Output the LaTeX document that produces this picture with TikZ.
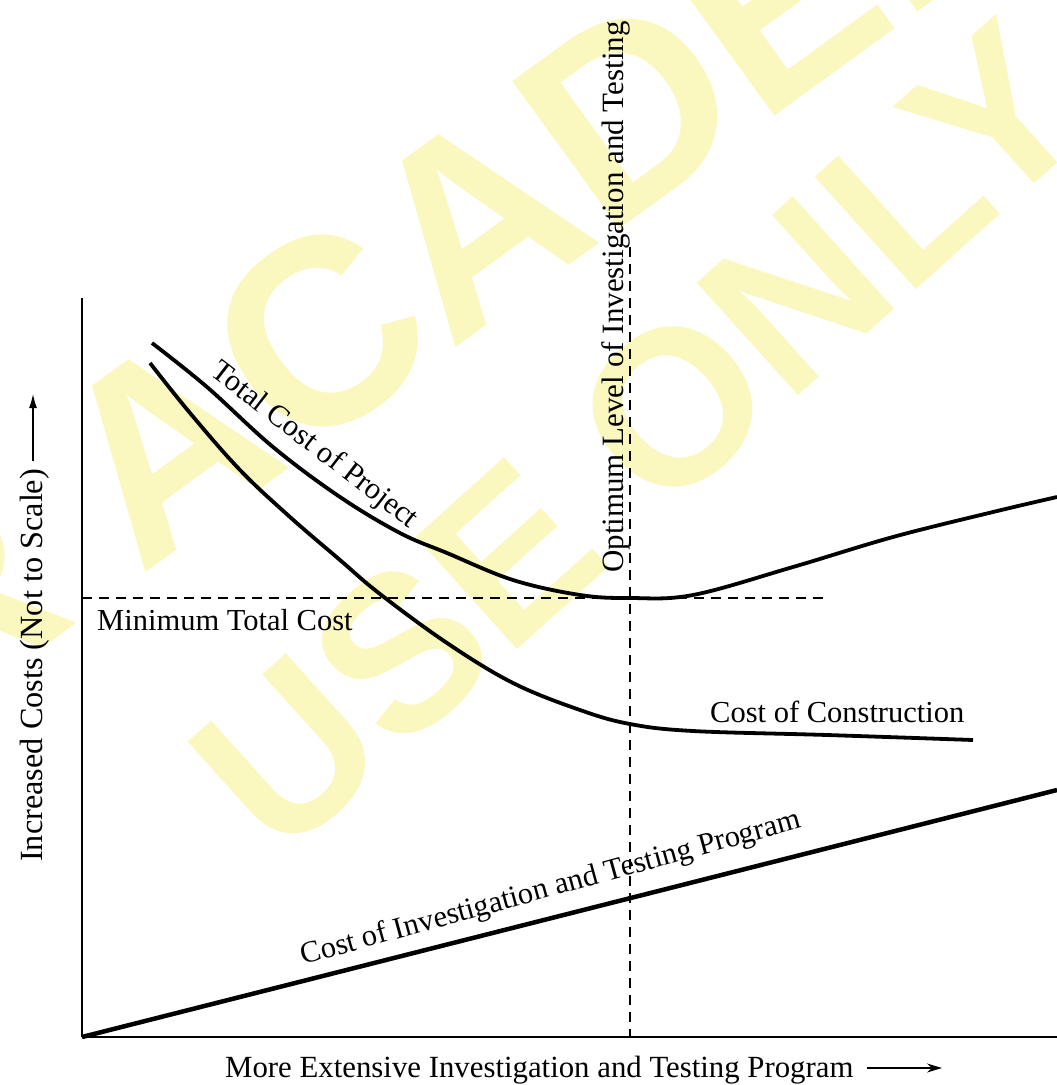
\documentclass[tikz,border=0pt]{standalone}
\usepackage{fontspec}
\setmainfont{Liberation Serif}
\newfontfamily\wmfont{Liberation Sans}
\usetikzlibrary{arrows.meta}
\definecolor{wmyellow}{RGB}{240,236,60}
\begin{document}
\begin{tikzpicture}[x=1pt,y=-1pt,
  curve/.style={line width=3.8pt},
  axisline/.style={line width=1.8pt},
  guide/.style={line width=1.4pt, dash pattern=on 10pt off 7pt},
  lbl/.style={inner sep=0pt, font=\fontsize{30.5}{36}\selectfont},
  wm/.style={inner sep=0pt, font=\wmfont\bfseries\fontsize{220}{264}\selectfont, text=wmyellow, opacity=0.33, rotate=42}
]
\useasboundingbox (0,0) rectangle (1057,1085);
\fill[white] (0,0) rectangle (1057,1085);
% watermark (pale, behind the drawing)
\node[wm, rotate=-6, font=\wmfont\bfseries\fontsize{265}{300}\selectfont] (wm1) at (409,269) {FOR ACADEMIC};
\node[wm] (wm2) at (639,438) {USE ONLY};
% axes
\coordinate (O) at (82,1037);
\coordinate (Ytop) at (82,298);
\coordinate (Xend) at (1057,1037);
\draw[axisline] (O) -- (Ytop);
\draw[line width=2.8pt] (O) -- (Xend);
% guides
\coordinate (hL) at (82,598);
\coordinate (hR) at (827,598);
\coordinate (vT) at (630,247);
\coordinate (vB) at (630,1037);
\draw[guide] (hL) -- (hR);
\draw[guide] (vT) -- (vB);
% cost of investigation
\coordinate (invEnd) at (1057,790);
\draw[line width=4.5pt] (O) -- (invEnd);
% total cost
\draw[curve] plot[smooth, tension=0.6] coordinates {(152,343) (207,387) (273,447) (340,497) (400,533) (447,553) (513,580) (580,595) (630,598) (693,595) (793,567) (893,537) (993,512) (1057,497)};
% construction
\draw[curve] plot[smooth, tension=0.6] coordinates {(150,363) (190,413) (240,470) (290,517) (340,560) (380,594) (447,643) (513,683) (580,710) (630,724) (693,731) (827,735) (973,740)};
% labels
\node[lbl, anchor=base west] (mintc) at (97,630) {Minimum Total Cost};
\node[lbl, anchor=base west] (coc) at (710,722) {Cost of Construction};
\node[lbl, anchor=base west, font=\fontsize{30.8}{36}\selectfont] (xlab) at (225,1077) {More Extensive Investigation and Testing Program};
\coordinate (xa1) at (867,1068);
\coordinate (xa2) at (942,1068);
\draw[line width=1.3pt, -{Stealth[length=15pt,width=9pt]}] (xa1) -- (xa2);
\node[lbl, anchor=base west, rotate=90, font=\fontsize{32.3}{36}\selectfont] (ylab) at (42,862) {Increased Costs (Not to Scale)};
\coordinate (ya1) at (33,461);
\coordinate (ya2) at (33,394);
\draw[line width=1.3pt, -{Latex[length=14pt,width=8pt]}] (ya1) -- (ya2);
\node[lbl, anchor=base west, rotate=90, font=\fontsize{31}{36}\selectfont] (optlab) at (623,573) {Optimum Level of Investigation and Testing};
\node[lbl, rotate=-37.6] (tcp) at (314,446) {Total Cost of Project};
\node[lbl, rotate=15.4] (cit) at (551,889) {Cost of Investigation and Testing Program};
\end{tikzpicture}
\end{document}
